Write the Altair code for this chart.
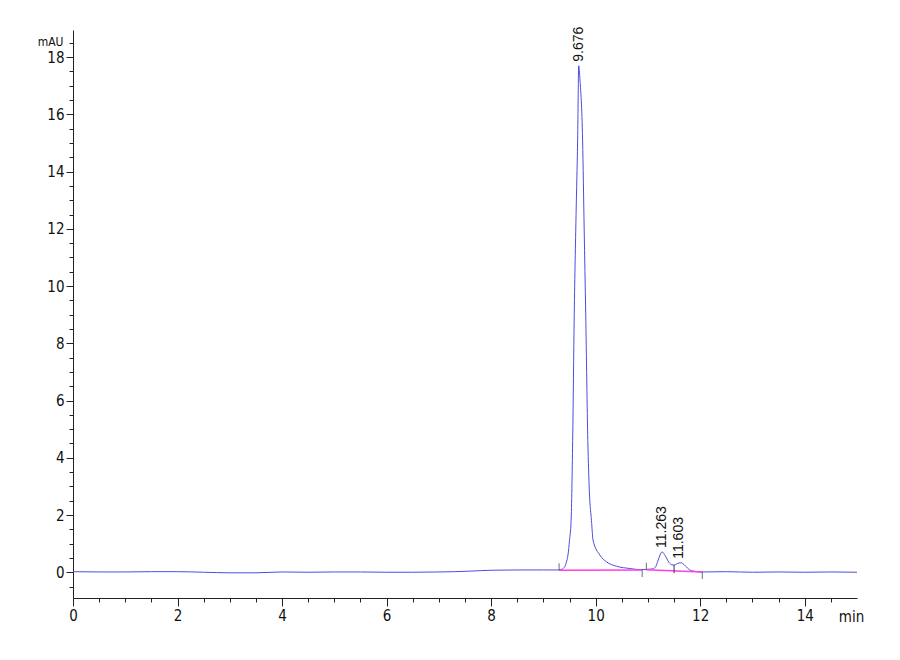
import altair as alt
import pandas as pd

# ---- data ----
trace_t = [0.0, 0.5, 1.0, 1.5, 2.0, 2.5, 3.0, 3.5, 4.0, 4.5, 5.0, 5.5, 6.0, 6.5, 7.0,
           7.3, 7.6, 8.0, 8.5, 9.0, 9.30, 9.35, 9.41, 9.44, 9.47, 9.50, 9.53, 9.56,
           9.59, 9.625, 9.655, 9.676, 9.70, 9.75, 9.78, 9.81, 9.85, 9.88, 9.92, 9.95,
           10.08, 10.21, 10.40, 10.66, 10.85, 10.97, 11.10, 11.15, 11.21, 11.27, 11.33,
           11.40, 11.46, 11.50, 11.57, 11.63, 11.69, 11.76, 11.84, 12.04, 12.5, 13.0,
           13.5, 14.0, 14.5, 15.0]
trace_v = [0.02, 0.01, 0.01, 0.02, 0.02, 0.0, -0.02, -0.02, 0.01, 0.0, 0.01, 0.01, 0.0, 0.0, 0.01,
           0.02, 0.04, 0.07, 0.08, 0.08, 0.08, 0.10, 0.20, 0.35, 0.60, 1.12, 1.80, 4.6,
           9.0, 12.5, 15.1, 17.7, 17.2, 15.1, 12.0, 9.0, 4.6, 2.8, 1.8, 1.12,
           0.60, 0.36, 0.21, 0.13, 0.09, 0.10, 0.12, 0.20, 0.50, 0.71, 0.58,
           0.35, 0.26, 0.25, 0.31, 0.33, 0.27, 0.14, 0.05, 0.01, 0.02, 0.0,
           0.01, 0.0, 0.01, 0.0]

# integration baselines (segment id, time, value)
base_seg = [1, 1, 2, 2]
base_t = [9.30, 10.89, 10.97, 12.04]
base_v = [0.07, 0.08, 0.09, 0.01]

# integration event markers
mark_up_t = [9.30, 10.97]
mark_up_v = [0.07, 0.09]
mark_dn_t = [10.89, 12.04]
mark_dn_v = [0.08, 0.01]
drop_t = [11.50]
drop_v = [0.25]
drop_v2 = [-0.03]

# peak labels
peak_t = [9.676, 11.263, 11.603]
peak_v = [17.7, 0.71, 0.33]
peak_lbl = ["9.676", "11.263", "11.603"]

x_ticks = [i * 0.5 for i in range(0, 30)]
y_ticks = [-0.5 + i * 0.5 for i in range(0, 39)]

trace = pd.DataFrame({"t": trace_t, "v": trace_v})
base = pd.DataFrame({"seg": base_seg, "t": base_t, "v": base_v})
up = pd.DataFrame({"t": mark_up_t, "v": mark_up_v})
dn = pd.DataFrame({"t": mark_dn_t, "v": mark_dn_v})
drop = pd.DataFrame({"t": drop_t, "v": drop_v, "v2": drop_v2})
peaks = pd.DataFrame({"t": peak_t, "v": peak_v, "lbl": peak_lbl})

NARROW = "Liberation Sans Narrow, DejaVu Sans Condensed, Arial Narrow, sans-serif"

xscale = alt.Scale(domain=[0, 15], nice=False, zero=False)
yscale = alt.Scale(domain=[-0.9, 18.95], nice=False, zero=False)

xaxis = alt.Axis(
    values=x_ticks, tickCount=200, grid=False, labelOverlap=False, labelFlush=False,
    format=".0f",
    labelExpr="datum.value % 2 === 0 ? datum.label : ''",
    tickSize={"condition": {"test": "datum.value % 2 === 0", "value": 8}, "value": 4},
    labelFont=NARROW, labelFontSize=15, labelColor="#111", labelPadding=2,
    domainColor="#222", tickColor="#222",
    title="min", titleFont=NARROW, titleFontSize=15, titleFontWeight="normal",
    titleColor="#111", titleX=778, titleY=23, titleAlign="center",
    titleBaseline="alphabetic", titleAnchor="start",
)
yaxis = alt.Axis(
    values=y_ticks, tickCount=200, grid=False, labelOverlap=False, labelFlush=False,
    format=".0f",
    labelExpr="datum.value % 2 === 0 ? datum.label : ''",
    tickSize={"condition": {"test": "datum.value % 2 === 0", "value": 7}, "value": 4},
    labelFont=NARROW, labelFontSize=15, labelColor="#111", labelPadding=2,
    domainColor="#222", tickColor="#222",
    title="mAU", titleFont=NARROW, titleFontSize=12, titleFontWeight="normal",
    titleColor="#111", titleAngle=0, titleX=-10, titleY=15, titleAlign="right",
    titleBaseline="alphabetic", titleAnchor="start",
)

line = alt.Chart(trace).mark_line(color="#4d4ddd", strokeWidth=1, interpolate="monotone").encode(
    x=alt.X("t:Q", scale=xscale, axis=xaxis),
    y=alt.Y("v:Q", scale=yscale, axis=yaxis),
)

baseline = alt.Chart(base).mark_line(color="#ff3cf0", strokeWidth=1.5).encode(
    x="t:Q", y="v:Q", detail="seg:N"
)

up_marks = alt.Chart(up).mark_tick(orient="vertical", size=7, thickness=1, color="#333", yOffset=-3.5).encode(
    x="t:Q", y="v:Q"
)
dn_marks = alt.Chart(dn).mark_tick(orient="vertical", size=7, thickness=1, color="#333", yOffset=3.5).encode(
    x="t:Q", y="v:Q"
)
drop_marks = alt.Chart(drop).mark_rule(color="#333", strokeWidth=1).encode(
    x="t:Q", y="v:Q", y2="v2:Q"
)

labels = alt.Chart(peaks).mark_text(
    angle=270, align="left", baseline="middle", dx=4,
    font="Liberation Sans, Arial, sans-serif", fontSize=14, color="#111"
).encode(x="t:Q", y="v:Q", text="lbl:N")

chart = alt.layer(line, baseline, up_marks, dn_marks, drop_marks, labels).properties(
    width=784, height=568,
    autosize=alt.AutoSizeParams(type="none"),
    padding={"left": 65, "top": 22, "right": 30, "bottom": 40},
    background="white",
).configure_view(stroke=None)

chart.save("out.html", embed_options={"renderer": "svg", "actions": False})
